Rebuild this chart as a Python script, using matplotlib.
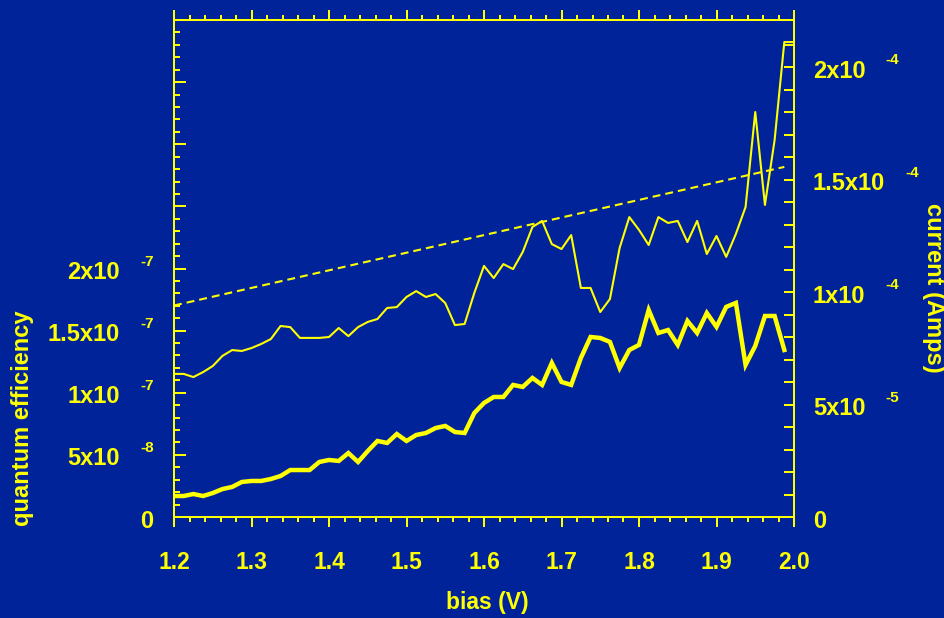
import matplotlib
matplotlib.use("Agg")   # no display
import matplotlib.pyplot as plt
from matplotlib.ticker import MultipleLocator

# -- colours -------------------------------------------------------------------
BG = "#00239A"
FG = "#FFFF00"

# -- data ----------------------------------------------------------------------
BIAS = [
    1.2000, 1.2125, 1.2250, 1.2375, 1.2500, 1.2625, 1.2750, 1.2875,
    1.3000, 1.3125, 1.3250, 1.3375, 1.3500, 1.3625, 1.3750, 1.3875,
    1.4000, 1.4125, 1.4250, 1.4375, 1.4500, 1.4625, 1.4750, 1.4875,
    1.5000, 1.5125, 1.5250, 1.5375, 1.5500, 1.5625, 1.5750, 1.5875,
    1.6000, 1.6125, 1.6250, 1.6375, 1.6500, 1.6625, 1.6750, 1.6875,
    1.7000, 1.7125, 1.7250, 1.7375, 1.7500, 1.7625, 1.7750, 1.7875,
    1.8000, 1.8125, 1.8250, 1.8375, 1.8500, 1.8625, 1.8750, 1.8875,
    1.9000, 1.9125, 1.9250, 1.9375, 1.9500, 1.9625, 1.9750, 1.9875,
    2.0000,
]

# current, in units of 1e-5 A (right axis, thin line)
CURRENT = [
    6.36, 6.36, 6.22, 6.44, 6.71, 7.16, 7.42, 7.38,
    7.51, 7.69, 7.91, 8.49, 8.44, 7.96, 7.96, 7.96,
    8.00, 8.40, 8.04, 8.44, 8.67, 8.80, 9.29, 9.33,
    9.78, 10.04, 9.78, 9.91, 9.51, 8.53, 8.58, 9.96,
    11.16, 10.62, 11.24, 11.02, 11.78, 12.89, 13.16, 12.13,
    11.91, 12.53, 10.18, 10.18, 9.11, 9.69, 11.96, 13.33,
    12.76, 12.09, 13.33, 13.07, 13.16, 12.22, 13.16, 11.69,
    12.49, 11.56, 12.58, 13.78, 18.00, 13.87, 16.76, 21.11,
    21.11,
]

# quantum efficiency, in units of 1e-8 (left axis, thick line), stops at 1.9875 V
QE = [
    1.69, 1.69, 1.85, 1.69, 1.93, 2.25, 2.42, 2.82,
    2.90, 2.90, 3.06, 3.30, 3.78, 3.78, 3.78, 4.43,
    4.59, 4.51, 5.15, 4.43, 5.31, 6.12, 5.96, 6.68,
    6.12, 6.60, 6.76, 7.16, 7.33, 6.84, 6.76, 8.37,
    9.18, 9.66, 9.66, 10.63, 10.47, 11.19, 10.63, 12.40,
    10.87, 10.63, 12.80, 14.49, 14.41, 14.09, 11.99, 13.44,
    13.85, 16.66, 14.81, 15.05, 13.85, 15.78, 14.81, 16.42,
    15.30, 16.91, 17.23, 12.24, 13.77, 16.18, 16.18, 13.44,
]

# dashed straight line (current axis)
FIT_BIAS = [1.2, 1.9875]
FIT_CURRENT = [9.40, 15.56]

X_TICKS = [1.2, 1.3, 1.4, 1.5, 1.6, 1.7, 1.8, 1.9, 2.0]
X_LABELS = ["1.2", "1.3", "1.4", "1.5", "1.6", "1.7", "1.8", "1.9", "2.0"]

QE_TICKS = [0, 5, 10, 15, 20]
QE_MANT = ["0", "5x10", "1x10", "1.5x10", "2x10"]
QE_EXP = ["", "-8", "-7", "-7", "-7"]

CUR_TICKS = [0, 5, 10, 15, 20]
CUR_MANT = ["0", "5x10", "1x10", "1.5x10", "2x10"]
CUR_EXP = ["", "-5", "-4", "-4", "-4"]
CUR_MINOR = list(range(0, 22))   # one tick every 1e-5 A

# -- figure --------------------------------------------------------------------
plt.rcParams["font.family"] = ["Liberation Sans", "DejaVu Sans"]
plt.rcParams["font.weight"] = "bold"

W, H = 945, 618
fig = plt.figure(figsize=(W / 100, H / 100), dpi=100, facecolor=BG)
ax = fig.add_axes([174 / W, 101 / H, 620 / W, 497 / H])
ax.set_facecolor(BG)
ax2 = ax.twinx()

LW_AXIS = 1.44

ax.plot(BIAS[:len(QE)], QE, color=FG, lw=3.2, solid_joinstyle="miter")
ax2.plot(BIAS, CURRENT, color=FG, lw=1.5)
ax2.plot(FIT_BIAS, FIT_CURRENT, color=FG, lw=1.5, dashes=(3.8, 2.4))

ax.set_xlim(1.2, 2.0)
ax.set_ylim(0, 40)
ax2.set_ylim(0, 22.09)

for a in (ax, ax2):
    for sp in a.spines.values():
        sp.set_color(FG)
        sp.set_linewidth(LW_AXIS)

# x axis: ticks outward on bottom and top
ax.set_xticks(X_TICKS)
ax.set_xticklabels(X_LABELS)
ax.xaxis.set_minor_locator(MultipleLocator(0.02))
ax.tick_params(axis="x", which="both", direction="out", top=True, bottom=True,
               colors=FG, width=LW_AXIS, labelsize=16.5, pad=17)
ax.tick_params(axis="x", which="major", length=7.5)
ax.tick_params(axis="x", which="minor", length=3.8)

# left axis: ticks inward, labels drawn by hand
ax.yaxis.set_major_locator(MultipleLocator(5))
ax.yaxis.set_minor_locator(MultipleLocator(1))
ax.tick_params(axis="y", which="both", direction="in", left=True, right=False,
               labelleft=False, colors=FG, width=LW_AXIS)
ax.tick_params(axis="y", which="major", length=8.6)
ax.tick_params(axis="y", which="minor", length=4.3)

# right axis: even ticks inward
ax2.set_yticks(CUR_MINOR)
ax2.tick_params(axis="y", which="both", direction="in", right=True, left=False,
                labelright=False, colors=FG, width=LW_AXIS, length=7.2)

# -- tick labels of the form  "2x10" with a raised exponent --------------------
def sci_label(axis, val, mant, exp, x_px, ha):
    t = axis.annotate(mant, xy=(x_px, val), xycoords=("figure pixels", "data"),
                      xytext=(0, -4), textcoords="offset pixels",
                      ha=ha, va="center", color=FG, fontsize=17, fontweight="bold")
    if exp:
        axis.annotate(exp, xy=(1, 0.5), xycoords=t, xytext=(20, 11),
                      textcoords="offset pixels", ha="left", va="center",
                      color=FG, fontsize=11, fontweight="bold")


for val, mant, exp in zip(QE_TICKS, QE_MANT, QE_EXP):
    sci_label(ax, val, mant, exp, 120 if exp else 153, "right")

for val, mant, exp in zip(CUR_TICKS, CUR_MANT, CUR_EXP):
    sci_label(ax2, val, mant, exp, 813, "left")

# -- axis titles ---------------------------------------------------------------
fig.text(487 / W, 1 - 602 / H, "bias (V)", color=FG, fontsize=16.5,
         fontweight="bold", ha="center", va="center")
fig.text(23 / W, 1 - 418 / H, "quantum efficiency", color=FG, fontsize=17,
         fontweight="bold", ha="center", va="center", rotation=90)
fig.text(934 / W, 1 - 288 / H, "current (Amps)", color=FG, fontsize=17,
         fontweight="bold", ha="center", va="center", rotation=270)

fig.savefig("out.png", dpi=100, facecolor=BG)
